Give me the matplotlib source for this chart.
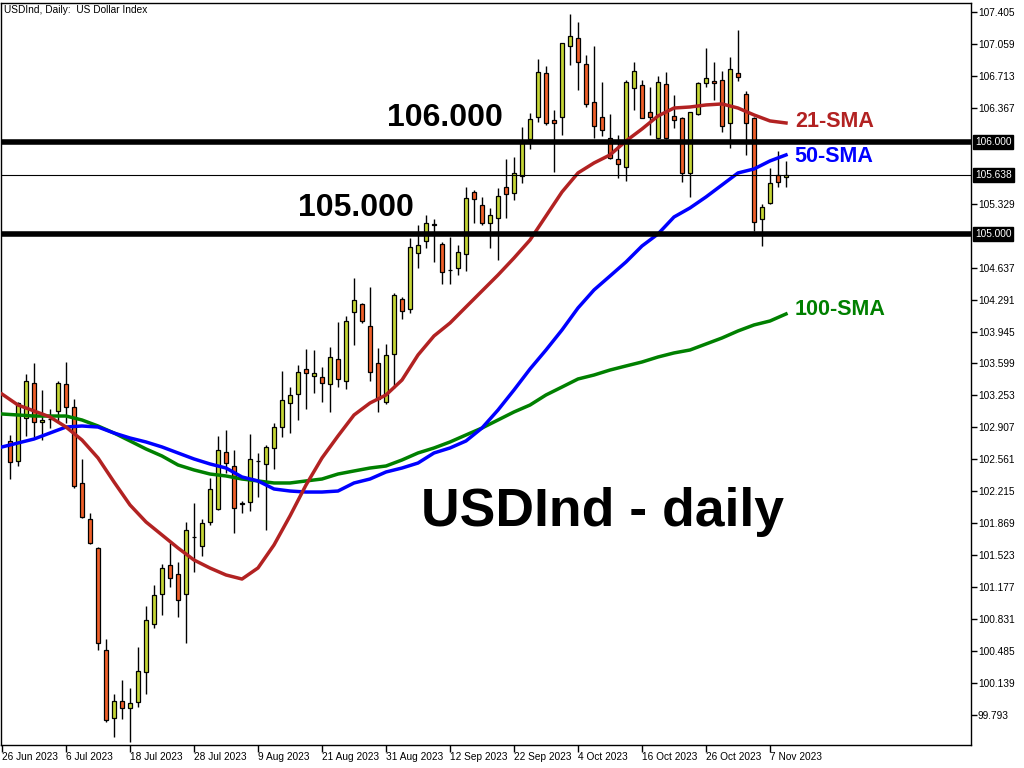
import matplotlib
matplotlib.use('Agg')
import matplotlib.pyplot as plt
import matplotlib.transforms as mtransforms
import pandas as pd

# trading days shown on the chart (index 0 = 26 Jun 2023, last = 9 Nov 2023)
dates = pd.bdate_range('2023-06-26', '2023-11-09')

# daily candles from 27 Jun 2023 (index 1) onward
opens = [102.759, 102.543, 103.005, 103.384, 102.961, 102.998, 103.084, 103.373, 103.124, 102.301,
         101.911, 101.597, 100.493, 99.764, 99.944, 99.865, 99.930, 100.254, 100.774, 101.099,
         101.413, 101.316, 101.099, 101.716, 101.619, 101.886, 102.019, 102.637, 102.492, 102.081,
         102.095, 102.543, 102.507, 102.680, 102.915, 103.175, 103.265, 103.536, 103.464, 103.456,
         103.377, 103.644, 103.410, 104.160, 104.240, 104.005, 103.608, 103.179, 103.702, 104.294,
         104.186, 104.792, 104.926, 105.106, 104.893, 104.611, 104.630, 104.785, 105.460, 105.315,
         105.117, 105.171, 105.514, 105.442, 105.629, 106.026, 106.272, 106.741, 106.236, 106.272,
         107.041, 107.120, 106.838, 106.427, 106.264, 106.037, 105.810, 105.723, 106.579, 106.611,
         106.319, 106.037, 106.622, 106.283, 106.254, 105.658, 106.301, 106.633, 106.658, 106.669,
         106.200, 106.741, 106.514, 106.254, 105.160, 105.333, 105.640, 105.615]
highs = [102.824, 103.185, 103.485, 103.600, 103.312, 103.106, 103.409, 103.611, 103.210, 102.564,
         101.976, 101.608, 100.612, 100.020, 100.171, 100.081, 100.532, 100.973, 101.200, 101.427,
         101.651, 101.445, 101.882, 102.084, 101.915, 102.355, 102.813, 102.878, 102.662, 102.113,
         102.836, 102.626, 102.716, 102.958, 103.518, 103.341, 103.583, 103.752, 103.745, 103.565,
         103.781, 104.052, 104.113, 104.528, 104.258, 104.431, 103.763, 103.810, 104.366, 104.323,
         104.954, 105.099, 105.207, 105.160, 104.918, 104.965, 104.882, 105.514, 105.478, 105.406,
         105.279, 105.496, 105.810, 105.831, 106.156, 106.315, 106.893, 106.824, 106.344, 107.073,
         107.383, 107.297, 106.939, 107.037, 106.651, 106.300, 106.073, 106.669, 106.867, 106.669,
         106.589, 106.712, 106.759, 106.506, 106.272, 106.326, 106.651, 107.012, 106.860, 106.770,
         106.914, 107.210, 106.550, 106.272, 105.326, 105.712, 105.904, 105.795]
lows = [102.344, 102.489, 102.813, 102.806, 102.770, 102.897, 102.969, 102.951, 102.247, 101.925,
        101.644, 100.496, 99.720, 99.558, 99.746, 99.504, 99.883, 100.016, 100.731, 100.875,
        101.182, 100.857, 100.568, 101.344, 101.518, 101.850, 102.010, 102.409, 101.767, 101.983,
        102.000, 102.157, 101.796, 102.453, 102.807, 102.850, 102.987, 103.106, 103.283, 103.186,
        103.077, 103.348, 103.323, 103.799, 104.041, 103.410, 103.077, 103.160, 103.330, 104.077,
        104.149, 104.630, 104.846, 104.702, 104.456, 104.456, 104.557, 104.604, 105.124, 105.100,
        104.846, 104.720, 105.171, 105.369, 105.557, 105.918, 106.218, 106.181, 105.676, 106.073,
        106.831, 106.560, 106.380, 106.037, 106.062, 105.810, 105.604, 105.579, 106.344, 106.254,
        106.073, 106.030, 106.026, 106.145, 105.568, 105.398, 106.290, 106.597, 106.452, 106.102,
        105.936, 106.662, 105.857, 105.034, 104.871, 105.326, 105.514, 105.514]
closes = [102.528, 103.167, 103.413, 102.961, 102.987, 102.998, 103.384, 103.124, 102.276, 101.933,
          101.651, 100.568, 99.735, 99.944, 99.865, 99.919, 100.265, 100.821, 101.088, 101.380,
          101.272, 101.038, 101.792, 101.720, 101.875, 102.236, 102.658, 102.517, 102.030, 102.085,
          102.561, 102.540, 102.698, 102.908, 103.204, 103.258, 103.503, 103.493, 103.493, 103.384,
          103.666, 103.428, 104.063, 104.287, 104.063, 103.511, 103.211, 103.691, 104.341, 104.168,
          104.857, 104.879, 105.117, 105.100, 104.586, 104.615, 104.803, 105.387, 105.377, 105.124,
          105.207, 105.413, 105.431, 105.658, 105.983, 106.243, 106.752, 106.200, 106.200, 107.066,
          107.145, 106.860, 106.405, 106.174, 106.127, 105.821, 105.756, 106.643, 106.766, 106.261,
          106.264, 106.643, 106.037, 106.236, 105.658, 106.319, 106.633, 106.687, 106.633, 106.174,
          106.784, 106.705, 106.200, 105.128, 105.297, 105.550, 105.561, 105.638]

# moving averages read every 2 bars (index 0, 2, ..., 98)
sma_idx = list(range(0, 99, 2))
sma21 = [103.268, 103.149, 103.085, 103.020, 102.911, 102.770, 102.576, 102.316, 102.067, 101.883,
         101.742, 101.601, 101.471, 101.384, 101.309, 101.265, 101.385, 101.634, 101.948, 102.283,
         102.576, 102.814, 103.041, 103.171, 103.258, 103.420, 103.691, 103.897, 104.037, 104.211,
         104.384, 104.557, 104.741, 104.936, 105.196, 105.456, 105.662, 105.770, 105.857, 106.008,
         106.138, 106.279, 106.365, 106.376, 106.398, 106.409, 106.365, 106.290, 106.225, 106.203]
sma50 = [102.695, 102.738, 102.781, 102.846, 102.911, 102.922, 102.911, 102.846, 102.792, 102.749,
         102.695, 102.630, 102.565, 102.511, 102.467, 102.370, 102.327, 102.240, 102.218, 102.207,
         102.207, 102.218, 102.305, 102.348, 102.424, 102.467, 102.521, 102.630, 102.684, 102.760,
         102.900, 103.095, 103.312, 103.539, 103.745, 103.962, 104.200, 104.395, 104.546, 104.698,
         104.871, 105.001, 105.185, 105.283, 105.402, 105.532, 105.662, 105.705, 105.792, 105.857]
sma100 = [103.052, 103.041, 103.030, 103.030, 103.030, 102.987, 102.922, 102.846, 102.760, 102.673,
          102.597, 102.500, 102.446, 102.402, 102.381, 102.348, 102.327, 102.305, 102.305, 102.327,
          102.348, 102.402, 102.435, 102.467, 102.489, 102.554, 102.630, 102.684, 102.749, 102.825,
          102.900, 102.987, 103.074, 103.149, 103.258, 103.344, 103.431, 103.474, 103.528, 103.572,
          103.615, 103.669, 103.713, 103.745, 103.810, 103.875, 103.951, 104.016, 104.059, 104.135]

level_lines = [106.000, 105.000]
last_price = 105.638
ytick_vals = [107.405, 107.059, 106.713, 106.367, 105.329, 104.637, 104.291, 103.945, 103.599,
              103.253, 102.907, 102.561, 102.215, 101.869, 101.523, 101.177, 100.831, 100.485,
              100.139, 99.793]

BULL = '#C5D636'
BEAR = '#F0602A'
SMALL = 'Liberation Sans'

fig = plt.figure(figsize=(10.24, 7.68), dpi=100)
ax = fig.add_axes([1 / 1024, 23 / 768, 970 / 1024, 742 / 768])

idx = list(range(1, len(opens) + 1))
# wicks
ax.vlines(idx, lows, highs, color='black', linewidth=1, zorder=2)
# bodies
colors = [BULL if c >= o else BEAR for o, c in zip(opens, closes)]
bottoms = [min(o, c) for o, c in zip(opens, closes)]
heights = [abs(c - o) for o, c in zip(opens, closes)]
ax.bar(idx, heights, bottom=bottoms, width=0.62, color=colors, edgecolor='black',
       linewidth=0.9, zorder=3)

# moving averages
ax.plot(sma_idx, sma100, color='#008000', linewidth=2.5, zorder=4)
ax.plot(sma_idx, sma50, color='#0000FF', linewidth=2.5, zorder=4)
ax.plot(sma_idx, sma21, color='#B22222', linewidth=2.5, zorder=4)

# levels
for lv in level_lines:
    ax.axhline(lv, color='black', linewidth=4.0, zorder=5)
ax.axhline(last_price, color='black', linewidth=0.8, zorder=5)

ax.set_xlim(-0.125, 121.125)
ax.set_ylim(99.468, 107.502)

# axes styling
for sp in ax.spines.values():
    sp.set_linewidth(1)
ax.yaxis.tick_right()
ax.set_yticks(ytick_vals)
ax.set_yticklabels([f'{v:.3f}' for v in ytick_vals], family=SMALL)
ax.tick_params(axis='y', direction='out', length=4, width=1, labelsize=7.3, pad=1)

xt = list(range(0, len(dates), 8))
ax.set_xticks(xt)
ax.set_xticklabels([f'{dates[i].day} {dates[i]:%b %Y}' for i in xt], ha='left', family=SMALL)
ax.tick_params(axis='x', direction='out', length=5, width=1, labelsize=7.3, pad=0)

# boxed price labels on the right scale
trans = mtransforms.blended_transform_factory(ax.transAxes, ax.transData)
for lv in level_lines + [last_price]:
    ax.text(1.004, lv, f'{lv:.3f}', transform=trans, ha='left', va='center', fontsize=7.3,
            family=SMALL, color='white',
            bbox=dict(boxstyle='square,pad=0.2', facecolor='black', edgecolor='black'),
            clip_on=False, zorder=6)

# annotations
bold = dict(family='Liberation Sans', fontweight='bold')
ax.text(55.4, 106.257, '106.000', ha='center', va='center', fontsize=23, color='black', zorder=7, **bold)
ax.text(44.25, 105.283, '105.000', ha='center', va='center', fontsize=23, color='black', zorder=7, **bold)
ax.text(75.1, 101.991, 'USDInd - daily', ha='center', va='center', fontsize=38.5, color='black', zorder=7, **bold)
ax.text(99.1, 106.214, '21-SMA', ha='left', va='center', fontsize=15.5, color='#B22222', zorder=7, **bold)
ax.text(99.1, 105.835, '50-SMA', ha='left', va='center', fontsize=15.5, color='#0000FF', zorder=7, **bold)
ax.text(99.1, 104.178, '100-SMA', ha='left', va='center', fontsize=15.5, color='#008000', zorder=7, **bold)

fig.text(4 / 1024, 1 - 10 / 768, 'USDInd, Daily:  US Dollar Index', fontsize=7.3, family=SMALL, va='center')

fig.savefig('out.png', dpi=100)
